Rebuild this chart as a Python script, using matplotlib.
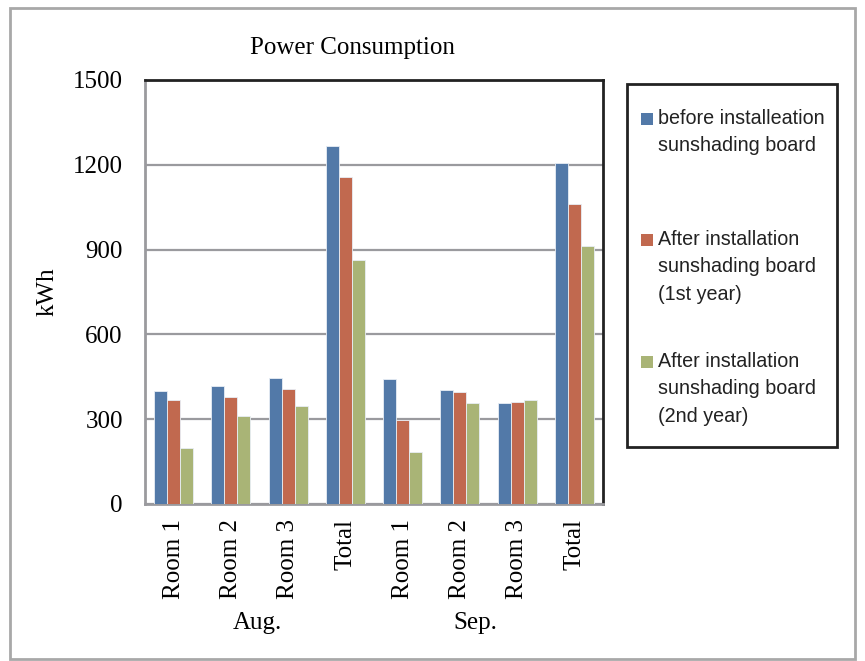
import numpy as np
import matplotlib.pyplot as plt
from matplotlib.patches import Rectangle

# Data
categories = ["Room 1", "Room 2", "Room 3", "Total", "Room 1", "Room 2", "Room 3", "Total"]
months = ["Aug.", "Sep."]
before = [398, 418, 447, 1267, 442, 402, 356, 1207]
after_1st = [368, 378, 408, 1158, 298, 396, 362, 1062]
after_2nd = [197, 313, 347, 862, 183, 356, 368, 912]
series_labels = ["before installeation\nsunshading board",
                 "After installation\nsunshading board\n(1st year)",
                 "After installation\nsunshading board\n(2nd year)"]
colors = ["#5279A8", "#C1694F", "#A9B476"]

serif = ["Liberation Serif", "DejaVu Serif"]
sans = ["Liberation Sans", "DejaVu Sans"]
fs = 18

fig = plt.figure(figsize=(8.65, 6.61), dpi=100)
ax = fig.add_axes([145 / 865, 1 - 504 / 661, 458 / 865, 424 / 661])

x = np.arange(len(categories))
w = 0.227
for i, (vals, c) in enumerate(zip([before, after_1st, after_2nd], colors)):
    ax.bar(x + (i - 1) * w, vals, width=w, color=c, edgecolor="#e8eef5",
           linewidth=0.6, zorder=3)

ax.set_xlim(-0.5, len(categories) - 0.5)
ax.set_ylim(0, 1500)
ax.set_yticks([0, 300, 600, 900, 1200, 1500])
ax.yaxis.grid(True, color="#9a9a9e", linewidth=1.6, zorder=0)
ax.tick_params(length=0)
ax.tick_params(axis="y", pad=16)
ax.tick_params(axis="x", pad=11)
ax.set_xticks(x)
ax.set_xticklabels(categories, rotation=90, fontfamily=serif, fontsize=fs)
for lab in ax.get_yticklabels():
    lab.set_fontfamily(serif)
    lab.set_fontsize(fs)

for s in ["left", "bottom"]:
    ax.spines[s].set_color("#9a9a9e")
    ax.spines[s].set_linewidth(2)
for s in ["top", "right"]:
    ax.spines[s].set_color("#222222")
    ax.spines[s].set_linewidth(2)

ax.set_ylabel("kWh", fontfamily=serif, fontsize=fs, labelpad=10)
fig.text(352 / 865, 1 - 48 / 661, "Power Consumption", ha="center", va="center",
         fontfamily=serif, fontsize=fs)

# month labels under each group of four
for xm, m in zip([257, 475], months):
    fig.text(xm / 865, 1 - 623 / 661, m, ha="center", va="center",
             fontfamily=serif, fontsize=fs)

# legend box
fig.patches.append(Rectangle((627 / 865, 1 - 447 / 661), 210 / 865, 363 / 661,
                             transform=fig.transFigure, fill=False,
                             edgecolor="#222222", linewidth=2))
legend_y = [119, 240, 362]
for ly, lab, c in zip(legend_y, series_labels, colors):
    fig.patches.append(Rectangle((641 / 865, 1 - (ly + 6) / 661), 12 / 865, 12 / 661,
                                 transform=fig.transFigure, facecolor=c,
                                 edgecolor="none"))
    fig.text(658 / 865, 1 - (ly - 10) / 661, lab, ha="left", va="top",
             fontfamily=sans, fontsize=14.2, color="#222222", linespacing=1.55)

# outer frame
fig.patches.append(Rectangle((10 / 865, 2 / 661), 845 / 865, 651 / 661,
                             transform=fig.transFigure, fill=False,
                             edgecolor="#a8a8a8", linewidth=2))

fig.savefig("out.png", dpi=100)
